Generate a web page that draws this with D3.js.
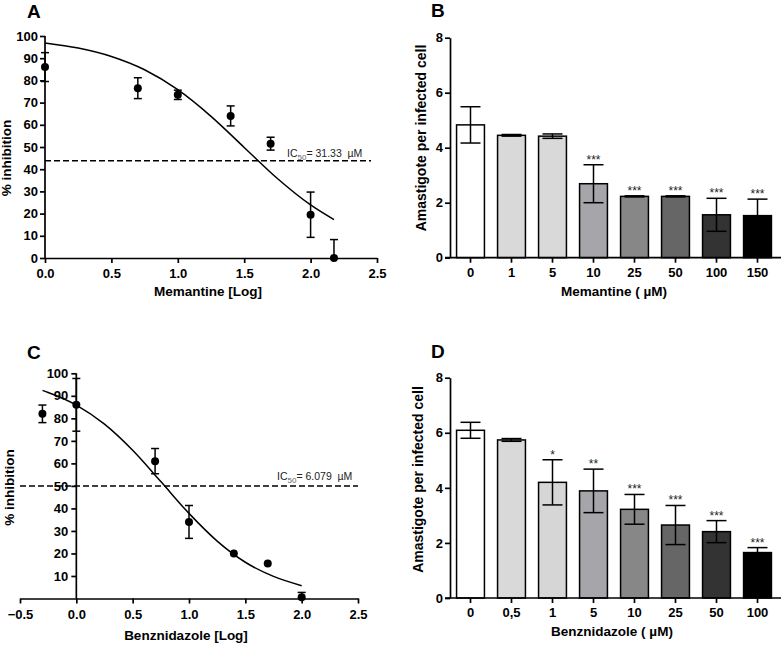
<!DOCTYPE html>
<html><head><meta charset="utf-8">
<script src="https://cdn.jsdelivr.net/npm/d3@7"></script>
<style>
html,body{margin:0;padding:0;background:#fff;}
svg{display:block;}
text{font-family:"Liberation Sans",Arial,sans-serif;}
</style></head>
<body>
<svg id="chart" width="781" height="645"></svg>
<script>
// ---------- DATA ----------
// Panel A: Memantine dose-response
const memLogX = [0, 0.699, 1, 1.398, 1.699, 2, 2.176];
const memInhib = [86, 76.5, 73.5, 64, 51.5, 19.5, 0];
const memInhibErr = [6.5, 4.7, 2.1, 4.5, 2.9, 10.2, 8.3];
const memFitX = [0, 0.25, 0.5, 0.75, 1, 1.25, 1.5, 1.75, 2, 2.176];
const memFitY = [96.9, 94.6, 90.8, 84.8, 75.8, 63.8, 49.8, 35.8, 23.9, 17.3];
const memIC50Level = 43.8;
const memIC50Text = "31.33";
const logTicksA = [0, 0.5, 1, 1.5, 2, 2.5];
const inhibTicksA = [0, 10, 20, 30, 40, 50, 60, 70, 80, 90, 100];

// Panel C: Benznidazole dose-response
const benzLogX = [-0.301, 0, 0.699, 1, 1.398, 1.699, 2];
const benzInhib = [82, 86, 61, 34, 20, 15.5, 0.5];
const benzInhibErr = [3.9, 11.7, 5.6, 7.3, 0, 0, 2.2];
const benzFitX = [-0.3, -0.25, 0, 0.25, 0.5, 0.75, 1, 1.25, 1.5, 1.75, 2];
const benzFitY = [92.4, 91.5, 85.9, 77.4, 65.8, 51.9, 37.8, 25.5, 16.1, 9.8, 5.7];
const benzIC50Level = 50;
const benzIC50Text = "6.079";
const logTicksC = [-0.5, 0, 0.5, 1, 1.5, 2, 2.5];
const inhibTicksC = [10, 20, 30, 40, 50, 60, 70, 80, 90, 100];

// Panel B: Memantine amastigotes
const memConc = ["0", "1", "5", "10", "25", "50", "100", "150"];
const memAmast = [4.83, 4.45, 4.42, 2.69, 2.23, 2.23, 1.56, 1.53];
const memAmastErr = [0.66, 0.03, 0.08, 0.69, 0.02, 0.02, 0.6, 0.6];
const memSig = ["", "", "", "***", "***", "***", "***", "***"];

// Panel D: Benznidazole amastigotes
const benzConc = ["0", "0,5", "1", "5", "10", "25", "50", "100"];
const benzAmast = [6.09, 5.74, 4.2, 3.89, 3.22, 2.65, 2.41, 1.65];
const benzAmastErr = [0.29, 0.05, 0.82, 0.79, 0.54, 0.71, 0.4, 0.18];
const benzSig = ["", "", "*", "**", "***", "***", "***", "***"];

const amastTicks = [0, 2, 4, 6, 8];

// ---------- STYLE ----------
const memFill = ["#ffffff", "#d9d9d9", "#d9d9d9", "#a5a5aa", "#878787", "#666666", "#333333", "#000000"];
const benzFill = ["#ffffff", "#d9d9d9", "#d6d6d6", "#a5a5aa", "#878787", "#666666", "#333333", "#000000"];
const AX_W = 1.7;
const TICK_FONT = "13px";
const TITLE_FONT = "13.5px";

const svg = d3.select("#chart");

function styleAxis(g, fontSize) {
  g.selectAll("path.domain").attr("stroke", "#000").attr("stroke-width", AX_W);
  g.selectAll(".tick line").attr("stroke", "#000").attr("stroke-width", AX_W);
  g.selectAll(".tick text").attr("fill", "#000").style("font-size", fontSize || TICK_FONT).style("font-weight", "bold");
}

function label(x, y, txt, opts) {
  opts = opts || {};
  const t = svg.append("text").attr("x", x).attr("y", y).text(txt)
    .style("font-size", opts.size || TITLE_FONT)
    .style("font-weight", opts.weight || "bold")
    .attr("fill", opts.fill || "#000")
    .attr("text-anchor", opts.anchor || "middle");
  if (opts.rotate) t.attr("transform", `rotate(-90,${x},${y})`);
  return t;
}

// ---------- dose-response panel ----------
function doseResponse(cfg) {
  const x = d3.scaleLinear().domain(cfg.xDomain).range(cfg.xRange);
  const y = d3.scaleLinear().domain([0, 100]).range(cfg.yRange);
  const g = svg.append("g");

  // dashed IC50 line
  g.append("line")
    .attr("x1", cfg.dashX0).attr("x2", cfg.dashX1)
    .attr("y1", y(cfg.icLevel)).attr("y2", y(cfg.icLevel))
    .attr("stroke", "#000").attr("stroke-width", 1.5).attr("stroke-dasharray", "6,3");

  // axes
  const xa = g.append("g").attr("transform", `translate(0,${y(0)})`)
    .call(d3.axisBottom(x).tickValues(cfg.xTicks).tickFormat(d3.format(".1f")).tickSize(5).tickPadding(6).tickSizeOuter(0));
  styleAxis(xa);
  const ya = g.append("g").attr("transform", `translate(${x(0)},0)`)
    .call(d3.axisLeft(y).tickValues(cfg.yTicks).tickFormat(d3.format("d")).tickSize(5).tickPadding(cfg.yPad).tickSizeOuter(0));
  styleAxis(ya);
  ya.select("path.domain").attr("d", `M0,${y(0)}V${y(100)}`);

  // fit curve
  const pts = cfg.fitX.map((d, i) => [d, cfg.fitY[i]]);
  g.append("path").datum(pts)
    .attr("d", d3.line().x(d => x(d[0])).y(d => y(d[1])).curve(d3.curveMonotoneX))
    .attr("fill", "none").attr("stroke", "#000").attr("stroke-width", 1.5);

  // error bars
  const data = cfg.px.map((d, i) => ({ x: d, y: cfg.py[i], e: cfg.pe[i] }));
  const eb = g.append("g").attr("stroke", "#000").attr("stroke-width", 1.5);
  data.filter(d => d.e > 0).forEach(d => {
    const cx = x(d.x);
    const lo = Math.max(0, d.y - d.e), hi = d.y + d.e;
    eb.append("line").attr("x1", cx).attr("x2", cx).attr("y1", y(lo)).attr("y2", y(hi));
    eb.append("line").attr("x1", cx - 4).attr("x2", cx + 4).attr("y1", y(hi)).attr("y2", y(hi));
    if (d.y - d.e > 0) eb.append("line").attr("x1", cx - 4).attr("x2", cx + 4).attr("y1", y(lo)).attr("y2", y(lo));
  });
  g.selectAll("circle.pt").data(data).enter().append("circle")
    .attr("cx", d => x(d.x)).attr("cy", d => y(d.y)).attr("r", 4).attr("fill", "#000");

  // IC50 text
  const t = svg.append("text").attr("x", cfg.icX).attr("y", cfg.icY)
    .style("font-size", "10.5px").attr("fill", "#222");
  t.append("tspan").text("IC");
  t.append("tspan").text("50").attr("dy", 3).style("font-size", "8px").attr("fill", "#666");
  t.append("tspan").text("= " + cfg.icText + "  \u00B5M").attr("dy", -3);
  t.attr("xml:space", "preserve");

  label(cfg.xTitleX, cfg.xTitleY, cfg.xTitle);
  label(cfg.yTitleX, cfg.yTitleY, "% inhibition", { rotate: true });
  label(cfg.letterX, cfg.letterY, cfg.letter, { size: "19px", anchor: "start" });
}

// ---------- bar panel ----------
function barPanel(cfg) {
  const x = d3.scaleBand().domain(cfg.cats).range(cfg.xRange).paddingInner(0.32).paddingOuter(0.16);
  const y = d3.scaleLinear().domain([0, 8]).range(cfg.yRange);
  const g = svg.append("g");
  const data = cfg.cats.map((c, i) => ({ c, v: cfg.vals[i], e: cfg.errs[i], s: cfg.sig[i], f: cfg.fill[i] }));

  g.selectAll("rect").data(data).enter().append("rect")
    .attr("x", d => x(d.c)).attr("width", x.bandwidth())
    .attr("y", d => y(d.v)).attr("height", d => y(0) - y(d.v))
    .attr("fill", d => d.f).attr("stroke", "#000").attr("stroke-width", 1.5);

  const eb = g.append("g").attr("stroke", "#000").attr("stroke-width", 1.5);
  data.forEach(d => {
    const cx = x(d.c) + x.bandwidth() / 2;
    eb.append("line").attr("x1", cx).attr("x2", cx).attr("y1", y(d.v - d.e)).attr("y2", y(d.v + d.e));
    eb.append("line").attr("x1", cx - 10).attr("x2", cx + 10).attr("y1", y(d.v + d.e)).attr("y2", y(d.v + d.e));
    eb.append("line").attr("x1", cx - 10).attr("x2", cx + 10).attr("y1", y(d.v - d.e)).attr("y2", y(d.v - d.e));
  });

  g.selectAll("text.sig").data(data).enter().append("text")
    .attr("x", d => x(d.c) + x.bandwidth() / 2)
    .attr("y", d => y(d.v + d.e) - 1)
    .attr("text-anchor", "middle").style("font-size", "12px").attr("fill", "#222")
    .text(d => d.s);

  const xa = g.append("g").attr("transform", `translate(0,${y(0)})`)
    .call(d3.axisBottom(x).tickSize(5).tickPadding(5).tickSizeOuter(0));
  styleAxis(xa);
  xa.select("path.domain").attr("d", `M${cfg.xRange[0] - 5},0H781`);
  const ya = g.append("g").attr("transform", `translate(${cfg.xRange[0]},0)`)
    .call(d3.axisLeft(y).tickValues(amastTicks).tickFormat(d3.format("d")).tickSize(5).tickPadding(2).tickSizeOuter(0));
  styleAxis(ya);

  label(cfg.xTitleX, cfg.xTitleY, cfg.xTitle);
  label(cfg.yTitleX, cfg.yTitleY, "Amastigote per infected cell", { rotate: true, size: "14px" });
  label(cfg.letterX, cfg.letterY, cfg.letter, { size: "19px", anchor: "start" });
}

doseResponse({
  xDomain: [0, 2.5], xRange: [45, 377], yRange: [258, 36],
  xTicks: logTicksA, yTicks: inhibTicksA, yPad: 2,
  fitX: memFitX, fitY: memFitY,
  px: memLogX, py: memInhib, pe: memInhibErr,
  icLevel: memIC50Level, icText: memIC50Text, dashX0: 45, dashX1: 371,
  icX: 287, icY: 156.5,
  xTitle: "Memantine [Log]", xTitleX: 208, xTitleY: 296,
  yTitleX: 10.5, yTitleY: 158,
  letter: "A", letterX: 27, letterY: 18
});

doseResponse({
  xDomain: [-0.5, 2.5], xRange: [20, 358], yRange: [598.5, 373.3],
  xTicks: logTicksC, yTicks: inhibTicksC, yPad: 3,
  fitX: benzFitX, fitY: benzFitY,
  px: benzLogX, py: benzInhib, pe: benzInhibErr,
  icLevel: benzIC50Level, icText: benzIC50Text, dashX0: 20, dashX1: 358,
  icX: 277, icY: 480,
  xTitle: "Benznidazole [Log]", xTitleX: 186, xTitleY: 639.5,
  yTitleX: 13.5, yTitleY: 487.5,
  letter: "C", letterX: 27, letterY: 359
});

barPanel({
  cats: memConc, vals: memAmast, errs: memAmastErr, sig: memSig, fill: memFill,
  xRange: [450, 778], yRange: [257.7, 37.7],
  xTitle: "Memantine ( \u00B5M)", xTitleX: 614, xTitleY: 296,
  yTitleX: 426, yTitleY: 138,
  letter: "B", letterX: 431, letterY: 16.5
});

barPanel({
  cats: benzConc, vals: benzAmast, errs: benzAmastErr, sig: benzSig, fill: benzFill,
  xRange: [450, 778], yRange: [598, 377.7],
  xTitle: "Benznidazole ( \u00B5M)", xTitleX: 612, xTitleY: 636,
  yTitleX: 423, yTitleY: 479.5,
  letter: "D", letterX: 431, letterY: 358
});
</script>
</body></html>
